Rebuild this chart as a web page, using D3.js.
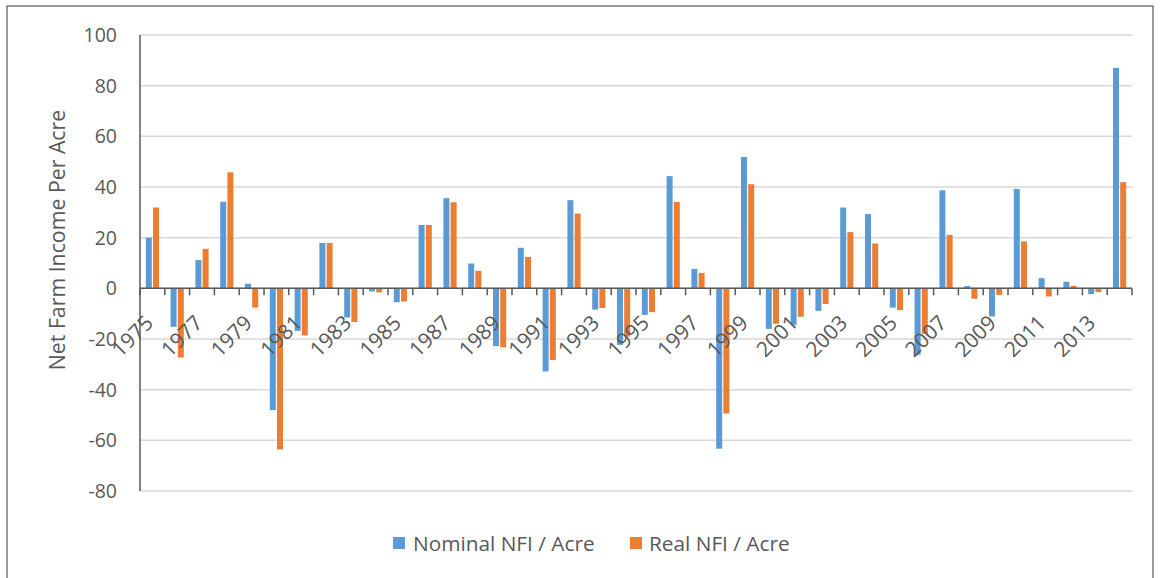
<!DOCTYPE html>
<html>
<head>
<meta charset="utf-8">
<script src="https://cdn.jsdelivr.net/npm/d3@7"></script>
<style>
  html, body { margin: 0; padding: 0; background: #fff; }
  svg { display: block; }
  text { font-family: "Open Sans", "Noto Sans", sans-serif; fill: #595959; }
</style>
</head>
<body>
<svg id="chart" width="1161" height="578"></svg>
<script>
// Net farm income per acre, annual change, 1975–2014
const years = d3.range(1975, 2015);
const nominal = [20, -15.2, 11.2, 34.2, 1.8, -48.1, -16.8, 17.9, -11.5, -1.2,
                 -5.5, 25, 35.6, 9.8, -22.8, 16, -32.8, 34.8, -8.4, -22.3,
                 -10.5, 44.3, 7.7, -63.3, 51.9, -16, -14.4, -8.9, 31.9, 29.3,
                 -7.6, -26.2, 38.7, 0.9, -11.1, 39.2, 4, 2.6, -2.3, 87];
const real = [31.9, -27.3, 15.6, 45.8, -7.6, -63.6, -18.6, 17.9, -13.3, -1.6,
              -5.2, 25, 34, 6.9, -23.3, 12.4, -28.3, 29.5, -7.8, -19,
              -9.4, 34.1, 6.1, -49.4, 41.1, -14, -11.2, -6.2, 22.2, 17.7,
              -8.6, -18, 21.1, -4.1, -2.6, 18.5, -3.2, 1, -1.5, 41.9];
const yTicks = [100, 80, 60, 40, 20, 0, -20, -40, -60, -80];
const seriesNames = ["Nominal NFI / Acre", "Real NFI / Acre"];
const seriesColors = ["#5B9BD5", "#ED7D31"];

const svg = d3.select("#chart");

// outer chart frame
svg.append("rect")
  .attr("x", 7).attr("y", 6).attr("width", 1146).attr("height", 600)
  .attr("fill", "none").attr("stroke", "#7a7a7a").attr("stroke-width", 1.5);

const x0 = 140, x1 = 1132, yTop = 35, yBot = 491;

const x = d3.scaleBand().domain(years).range([x0, x1]).paddingInner(0).paddingOuter(0);
const y = d3.scaleLinear().domain([-80, 100]).range([yBot, yTop]);
const slot = 7.2;
const barW = 6;

// horizontal gridlines
svg.append("g").selectAll("line").data(yTicks).join("line")
  .attr("x1", x0).attr("x2", x1)
  .attr("y1", d => y(d)).attr("y2", d => y(d))
  .attr("stroke", "#d9d9d9").attr("stroke-width", 1.5);

// y tick labels
svg.append("g").selectAll("text").data(yTicks).join("text")
  .attr("x", 117).attr("y", d => y(d))
  .attr("dy", "0.36em")
  .attr("text-anchor", "end")
  .style("font-size", "19.5px")
  .text(d => d);

// y axis title
svg.append("text")
  .attr("transform", `translate(65,${(yTop + yBot) / 2 - 23}) rotate(-90)`)
  .attr("text-anchor", "middle")
  .style("font-size", "21.3px")
  .text("Net Farm Income Per Acre");

// bars
const series = [nominal, real];
series.forEach((vals, s) => {
  svg.append("g").selectAll("rect").data(years).join("rect")
    .attr("x", (d, i) => x(d) + x.bandwidth() / 2 - slot + s * slot + (slot - barW) / 2)
    .attr("width", barW)
    .attr("y", (d, i) => y(Math.max(0, vals[i])))
    .attr("height", (d, i) => Math.abs(y(vals[i]) - y(0)))
    .attr("fill", seriesColors[s]);
});

// vertical axis line
svg.append("line")
  .attr("x1", x0).attr("x2", x0).attr("y1", yTop).attr("y2", yBot)
  .attr("stroke", "#595959").attr("stroke-width", 1.5);

// category axis with tick marks between categories
const axisG = svg.append("g");
axisG.append("line")
  .attr("x1", x0).attr("x2", x1).attr("y1", y(0)).attr("y2", y(0))
  .attr("stroke", "#595959").attr("stroke-width", 1.5);
axisG.selectAll("line.tick").data(years.concat([null])).join("line")
  .attr("class", "tick")
  .attr("x1", (d, i) => x0 + i * x.step()).attr("x2", (d, i) => x0 + i * x.step())
  .attr("y1", y(0)).attr("y2", y(0) + 7)
  .attr("stroke", "#595959").attr("stroke-width", 1.5);

// rotated year labels, every other year
axisG.selectAll("text").data(years.filter((d, i) => i % 2 === 0)).join("text")
  .attr("transform", d => `translate(${x(d) + x.bandwidth() / 2 + 2},${y(0) + 36}) rotate(-45)`)
  .attr("text-anchor", "end")
  .style("font-size", "21px")
  .text(d => d);

// legend
const legendItems = [{ x: 393, tx: 413 }, { x: 630, tx: 649 }];
legendItems.forEach((p, s) => {
  svg.append("rect")
    .attr("x", p.x).attr("y", 537).attr("width", 12).attr("height", 12)
    .attr("fill", seriesColors[s]);
  svg.append("text")
    .attr("x", p.tx).attr("y", 551)
    .style("font-size", "20.8px")
    .text(seriesNames[s]);
});
</script>
</body>
</html>
